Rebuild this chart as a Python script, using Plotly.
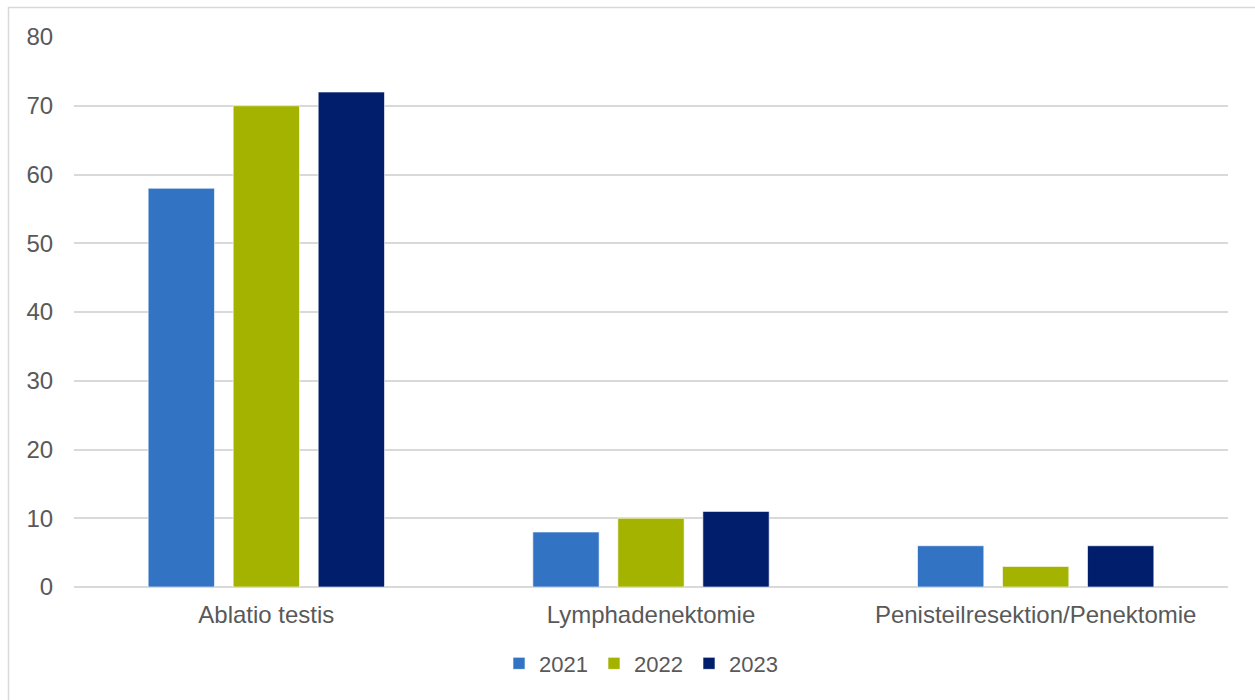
import plotly.graph_objects as go

categories = ["Ablatio testis", "Lymphadenektomie", "Penisteilresektion/Penektomie"]
years = ["2021", "2022", "2023"]
values_2021 = [58, 8, 6]
values_2022 = [70, 10, 3]
values_2023 = [72, 11, 6]
colors = ["#3273C3", "#A3B300", "#001E6B"]
y_ticks = [0, 10, 20, 30, 40, 50, 60, 70, 80]

W, H = 1255, 700
L, R, T, B = 74, 27, 37, 113

fig = go.Figure()
for name, vals, col in zip(years, [values_2021, values_2022, values_2023], colors):
    fig.add_trace(go.Bar(
        x=categories, y=vals, name=name,
        marker=dict(color=col, line=dict(color="rgba(255,255,255,0.6)", width=1)),
    ))

pw = W - L - R
ph = H - T - B
fig.add_shape(type="rect", xref="paper", yref="paper",
              x0=(8.5 - L) / pw, x1=1.2, y0=-0.5, y1=1 + (T - 7.5) / ph,
              line=dict(color="#D9D9D9", width=1.5), fillcolor="rgba(0,0,0,0)", layer="below")

fig.update_layout(
    width=W, height=H,
    margin=dict(l=L, r=R, t=T, b=B, pad=0, autoexpand=False),
    paper_bgcolor="white", plot_bgcolor="white",
    barmode="group", bargap=0.337, bargroupgap=0.22,
    font=dict(family="Liberation Sans, Arial, sans-serif", size=24, color="#595959"),
    xaxis=dict(showgrid=False, showline=False, ticks="outside", ticklen=6, automargin=False,
               tickcolor="rgba(0,0,0,0)", tickfont=dict(size=24, color="#595959")),
    yaxis=dict(range=[0, 80], tickvals=y_ticks, showgrid=True, gridcolor="#D9D9D9", gridwidth=1.5,
               zeroline=True, zerolinecolor="#D9D9D9", zerolinewidth=1.5, showline=False,
               ticks="outside", ticklen=15, tickcolor="rgba(0,0,0,0)", automargin=False,
               tickfont=dict(size=24, color="#595959")),
    legend=dict(orientation="h", x=(499 - L) / pw, xanchor="left", y=-0.101, yanchor="top",
                font=dict(size=22, color="#595959"), itemwidth=30, traceorder="normal",
                entrywidth=50, entrywidthmode="pixels"),
    showlegend=True,
)

fig.write_html("out.html", config={"displayModeBar": False})
with open("out.html", "r", encoding="utf-8") as f:
    html = f.read()
html = html.replace("<body>", '<body style="margin:0;overflow:hidden">', 1)
with open("out.html", "w", encoding="utf-8") as f:
    f.write(html)
